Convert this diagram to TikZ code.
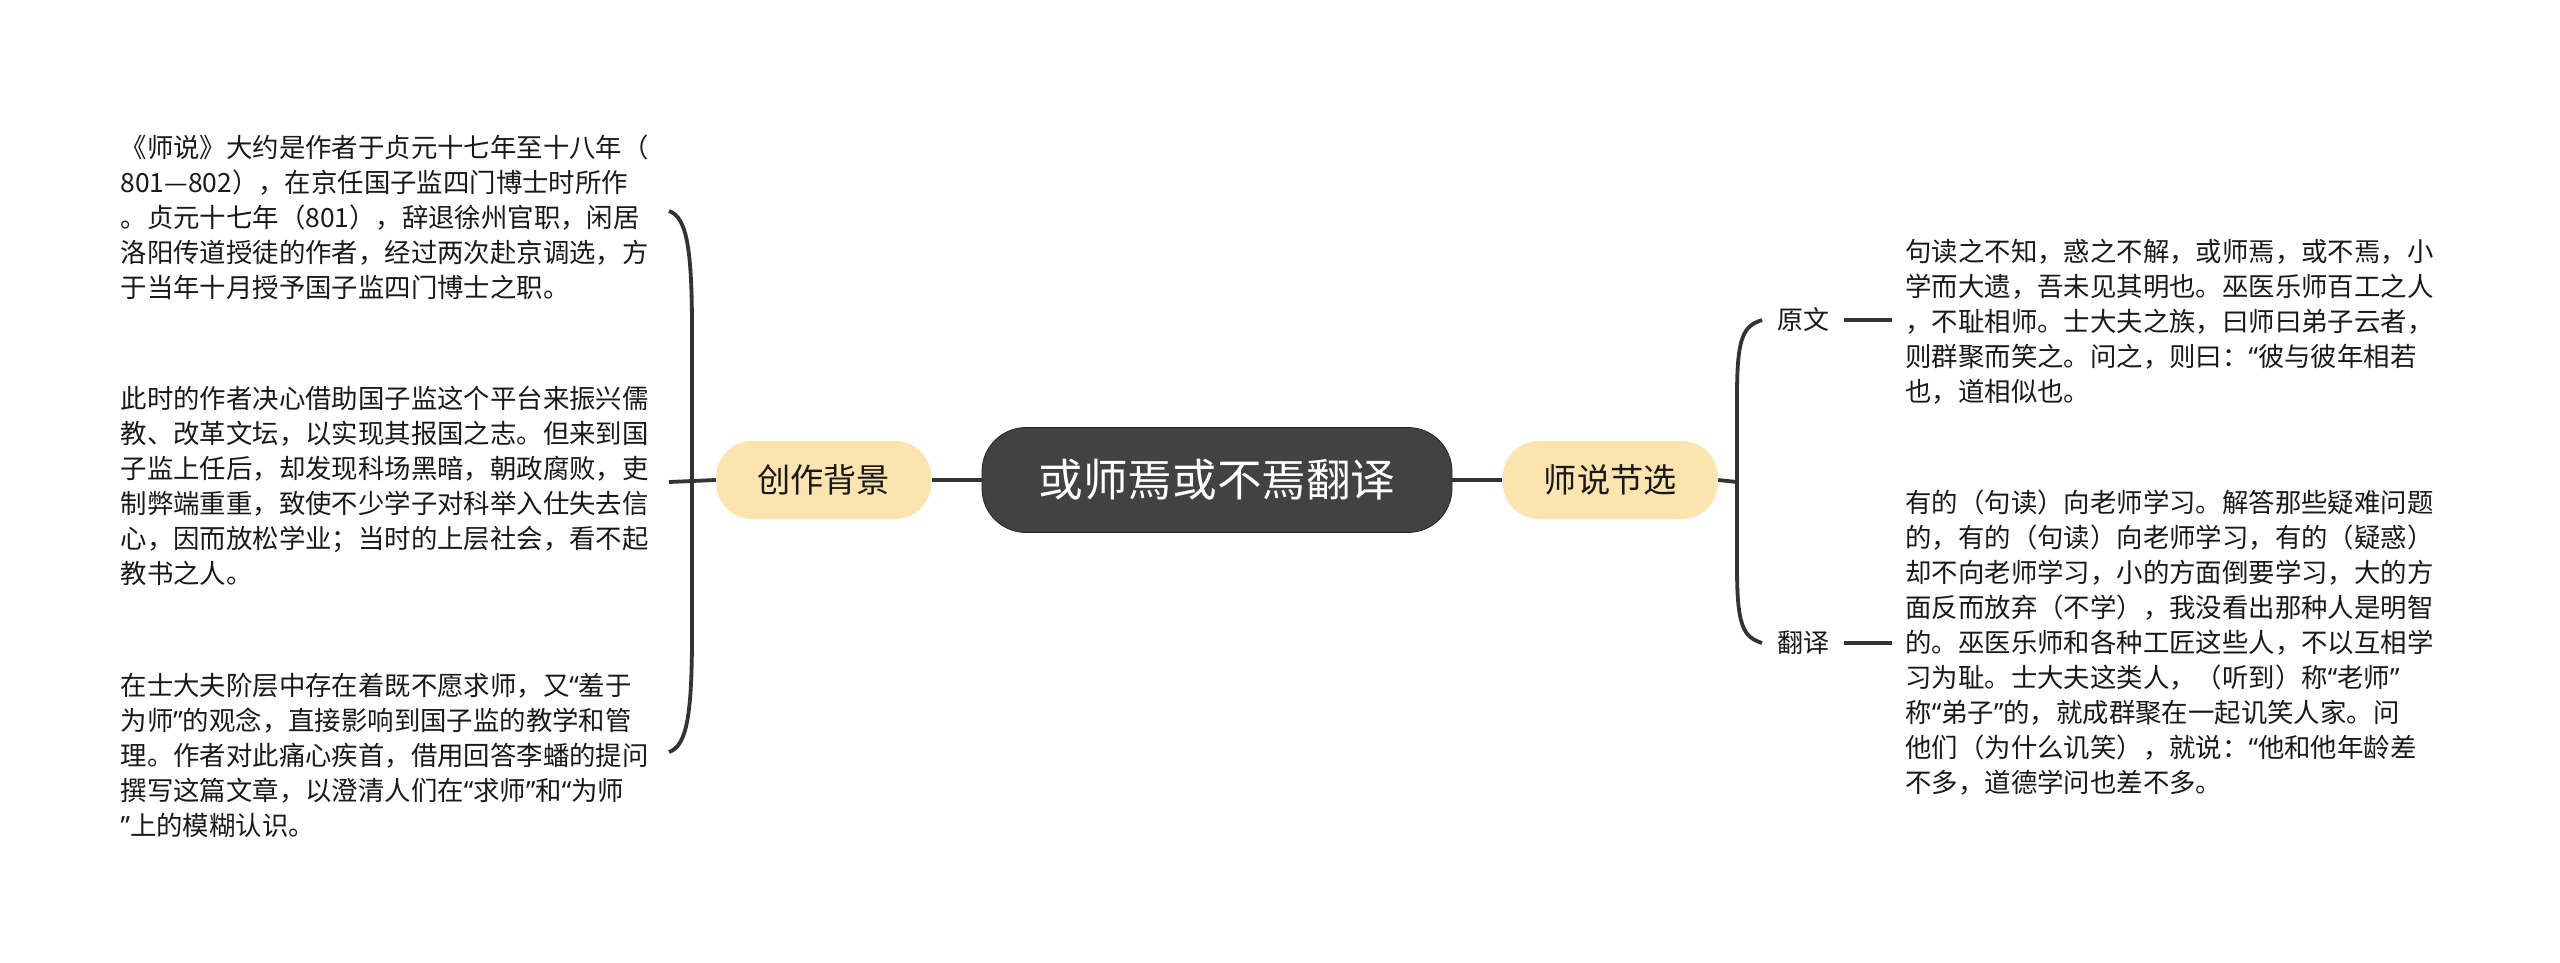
\documentclass[tikz,border=0pt]{standalone}
\usepackage{fontspec}
\setmainfont{Noto Sans CJK SC}
\newfontfamily\quotefont{Noto Sans}
\usepackage{xcolor}
\usepackage{tikz}
\usetikzlibrary{positioning}

\definecolor{rootgray}{HTML}{424242}
\definecolor{topicyellow}{HTML}{FCE4AE}
\definecolor{linegray}{HTML}{333333}
\newcommand{\oq}{{\quotefont “}}
\newcommand{\cq}{{\quotefont ”}}

\begin{document}
\begin{tikzpicture}[
    x=0.5pt, y=-0.5pt,
    root/.style={draw=black!85, fill=rootgray, rounded corners=22pt, minimum width=235pt,
                 minimum height=52.5pt, text=white, font=\fontsize{22.3pt}{26pt}\selectfont},
    topic/.style={fill=topicyellow, rounded corners=18pt, minimum width=107.5pt,
                  minimum height=39pt, text=black!90, font=\fontsize{16.6pt}{20pt}\selectfont},
    sub/.style={inner sep=0pt, text=black!90, font=\fontsize{13pt}{16pt}\selectfont},
    txt/.style={inner sep=0pt, text width=268pt, align=left, text=black!90,
                font=\fontsize{13.2pt}{17.5pt}\selectfont},
    conn/.style={draw=linegray, line width=1.9pt},
]
\useasboundingbox (0,0) rectangle (2560,963);

% centre and main topics
\node[root] (root) at (1217,480) {或师焉或不焉翻译};
\node[topic, left=25pt of root] (bg) {创作背景};
\node[topic, right=25pt of root] (sel) {师说节选};

% bracket ends
\coordinate (l1) at (669,211);
\coordinate (l2) at (669,482);
\coordinate (l3) at (669,752);
\coordinate (r1) at (1762,320);
\coordinate (r2) at (1762,643);

% left texts
\node[txt, anchor=east] (bgtxt1) at ([xshift=-6pt,yshift=-3pt]l1) {《师说》大约是作者于贞元十七年至十八年（\\801—802），在京任国子监四门博士时所作\\。贞元十七年（801），辞退徐州官职，闲居\\洛阳传道授徒的作者，经过两次赴京调选，方\\于当年十月授予国子监四门博士之职。};
\node[txt, anchor=east] (bgtxt2) at ([xshift=-6pt,yshift=-2pt]l2) {此时的作者决心借助国子监这个平台来振兴儒\\教、改革文坛，以实现其报国之志。但来到国\\子监上任后，却发现科场黑暗，朝政腐败，吏\\制弊端重重，致使不少学子对科举入仕失去信\\心，因而放松学业；当时的上层社会，看不起\\教书之人。};
\node[txt, anchor=east] (bgtxt3) at ([xshift=-6pt,yshift=-2pt]l3) {在士大夫阶层中存在着既不愿求师，又\oq 羞于\\为师\cq 的观念，直接影响到国子监的教学和管\\理。作者对此痛心疾首，借用回答李蟠的提问\\撰写这篇文章，以澄清人们在\oq 求师\cq 和\oq 为师\\\cq 上的模糊认识。};

% right labels and texts
\node[sub, anchor=west] (orig) at ([xshift=7.5pt]r1) {原文};
\node[sub, anchor=west] (trans) at ([xshift=7.5pt]r2) {翻译};
\node[txt, anchor=west] (seltxt1) at (1905,322) {句读之不知，惑之不解，或师焉，或不焉，小\\学而大遗，吾未见其明也。巫医乐师百工之人\\，不耻相师。士大夫之族，曰师曰弟子云者，\\则群聚而笑之。问之，则曰：\oq 彼与彼年相若\\也，道相似也。};
\node[txt, anchor=west] (seltxt2) at (1905,643) {有的（句读）向老师学习。解答那些疑难问题\\的，有的（句读）向老师学习，有的（疑惑）\\却不向老师学习，小的方面倒要学习，大的方\\面反而放弃（不学），我没看出那种人是明智\\的。巫医乐师和各种工匠这些人，不以互相学\\习为耻。士大夫这类人，（听到）称\oq 老师\cq\\称\oq 弟子\cq 的，就成群聚在一起讥笑人家。问\\他们（为什么讥笑），就说：\oq 他和他年龄差\\不多，道德学问也差不多。};

% connectors
\draw[conn] (root) -- (bg);
\draw[conn] (root) -- (sel);
\draw[conn] (bg.west) -- (l2);
\draw[conn] (l1) .. controls +(18,6) and +(0,-80) .. (692,330) -- (692,634)
            .. controls +(0,80) and +(18,-6) .. (l3);
\draw[conn] (sel.east) -- (1737,482);
\draw[conn] (r1) .. controls +(-18,6) and +(0,-60) .. (1737,395) -- (1737,568)
            .. controls +(0,60) and +(-18,-6) .. (r2);
\draw[conn] ([xshift=7pt]orig.east) -- ([xshift=-6.5pt]seltxt1.west |- orig.east);
\draw[conn] ([xshift=7pt]trans.east) -- ([xshift=-6.5pt]seltxt2.west |- trans.east);
\end{tikzpicture}
\end{document}
